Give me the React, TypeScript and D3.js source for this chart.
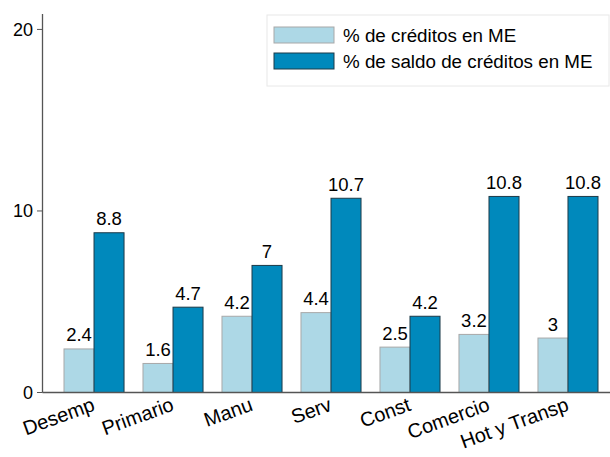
import React from "react";
import * as d3 from "d3";

const categories = ["Desemp", "Primario", "Manu", "Serv", "Const", "Comercio", "Hot y Transp"];
const creditos = [2.4, 1.6, 4.2, 4.4, 2.5, 3.2, 3];
const saldo = [8.8, 4.7, 7, 10.7, 4.2, 10.8, 10.8];
const seriesNames = ["% de créditos en ME", "% de saldo de créditos en ME"];
const yTicks = [0, 10, 20];

const W = 610;
const H = 457;
const FONT = "'Liberation Sans', Arial, sans-serif";
const colors = ["#add8e6", "#0089bc"];
const strokes = ["#a8a8a8", "#1d3a48"];

export default function App() {
  const x = d3.scaleBand<string>().domain(categories).range([64, 598]).paddingInner(0.24).paddingOuter(0);
  const inner = d3.scaleBand<number>().domain([0, 1]).range([0, x.bandwidth()]);
  const y = d3.scaleLinear().domain([0, 20.85]).range([392.5, 14]);
  const series = [creditos, saldo];

  return (
    <svg width={W} height={H} style={{ position: "absolute", left: 0, top: 0, background: "#fff" }} fontFamily={FONT}>
      {series.map((vals, si) =>
        vals.map((v, i) => {
          const bx = (x(categories[i]) as number) + (inner(si) as number);
          const bw = inner.bandwidth();
          return (
            <g key={`${si}-${i}`}>
              <rect x={bx} y={y(v)} width={bw} height={y(0) - y(v)} fill={colors[si]} stroke={strokes[si]} strokeWidth={1} />
              <text x={bx + bw / 2} y={y(v) - 7.5} textAnchor="middle" fontSize={18.5} fill="#000">
                {String(v)}
              </text>
            </g>
          );
        })
      )}
      {/* axes */}
      <line x1={42.5} x2={42.5} y1={14} y2={y(0)} stroke="#555" strokeWidth={1.3} />
      <line x1={42.5} x2={610} y1={y(0)} y2={y(0)} stroke="#555" strokeWidth={1.3} />
      {yTicks.map((t) => (
        <g key={t}>
          <line x1={37} x2={42.5} y1={y(t)} y2={y(t)} stroke="#555" strokeWidth={1} />
          <text x={33} y={y(t)} dy="0.35em" textAnchor="end" fontSize={18} fill="#000">
            {t}
          </text>
        </g>
      ))}
      {categories.map((c) => {
        const cx = (x(c) as number) + x.bandwidth() / 2;
        return (
          <text key={c} transform={`translate(${cx + 2},${410}) rotate(-20)`} textAnchor="end" fontSize={20} fill="#000">
            {c}
          </text>
        );
      })}
      {/* legend */}
      <rect x={267} y={15} width={342} height={71} fill="#fff" stroke="#e8e8e8" strokeWidth={1} />
      {seriesNames.map((n, i) => (
        <g key={n} transform={`translate(274,${27 + i * 26})`}>
          <rect x={0} y={0} width={60} height={16} fill={colors[i]} stroke={strokes[i]} strokeWidth={1} />
          <text x={69} y={8} dy="0.36em" fontSize={18.8} fill="#000">
            {n}
          </text>
        </g>
      ))}
    </svg>
  );
}
